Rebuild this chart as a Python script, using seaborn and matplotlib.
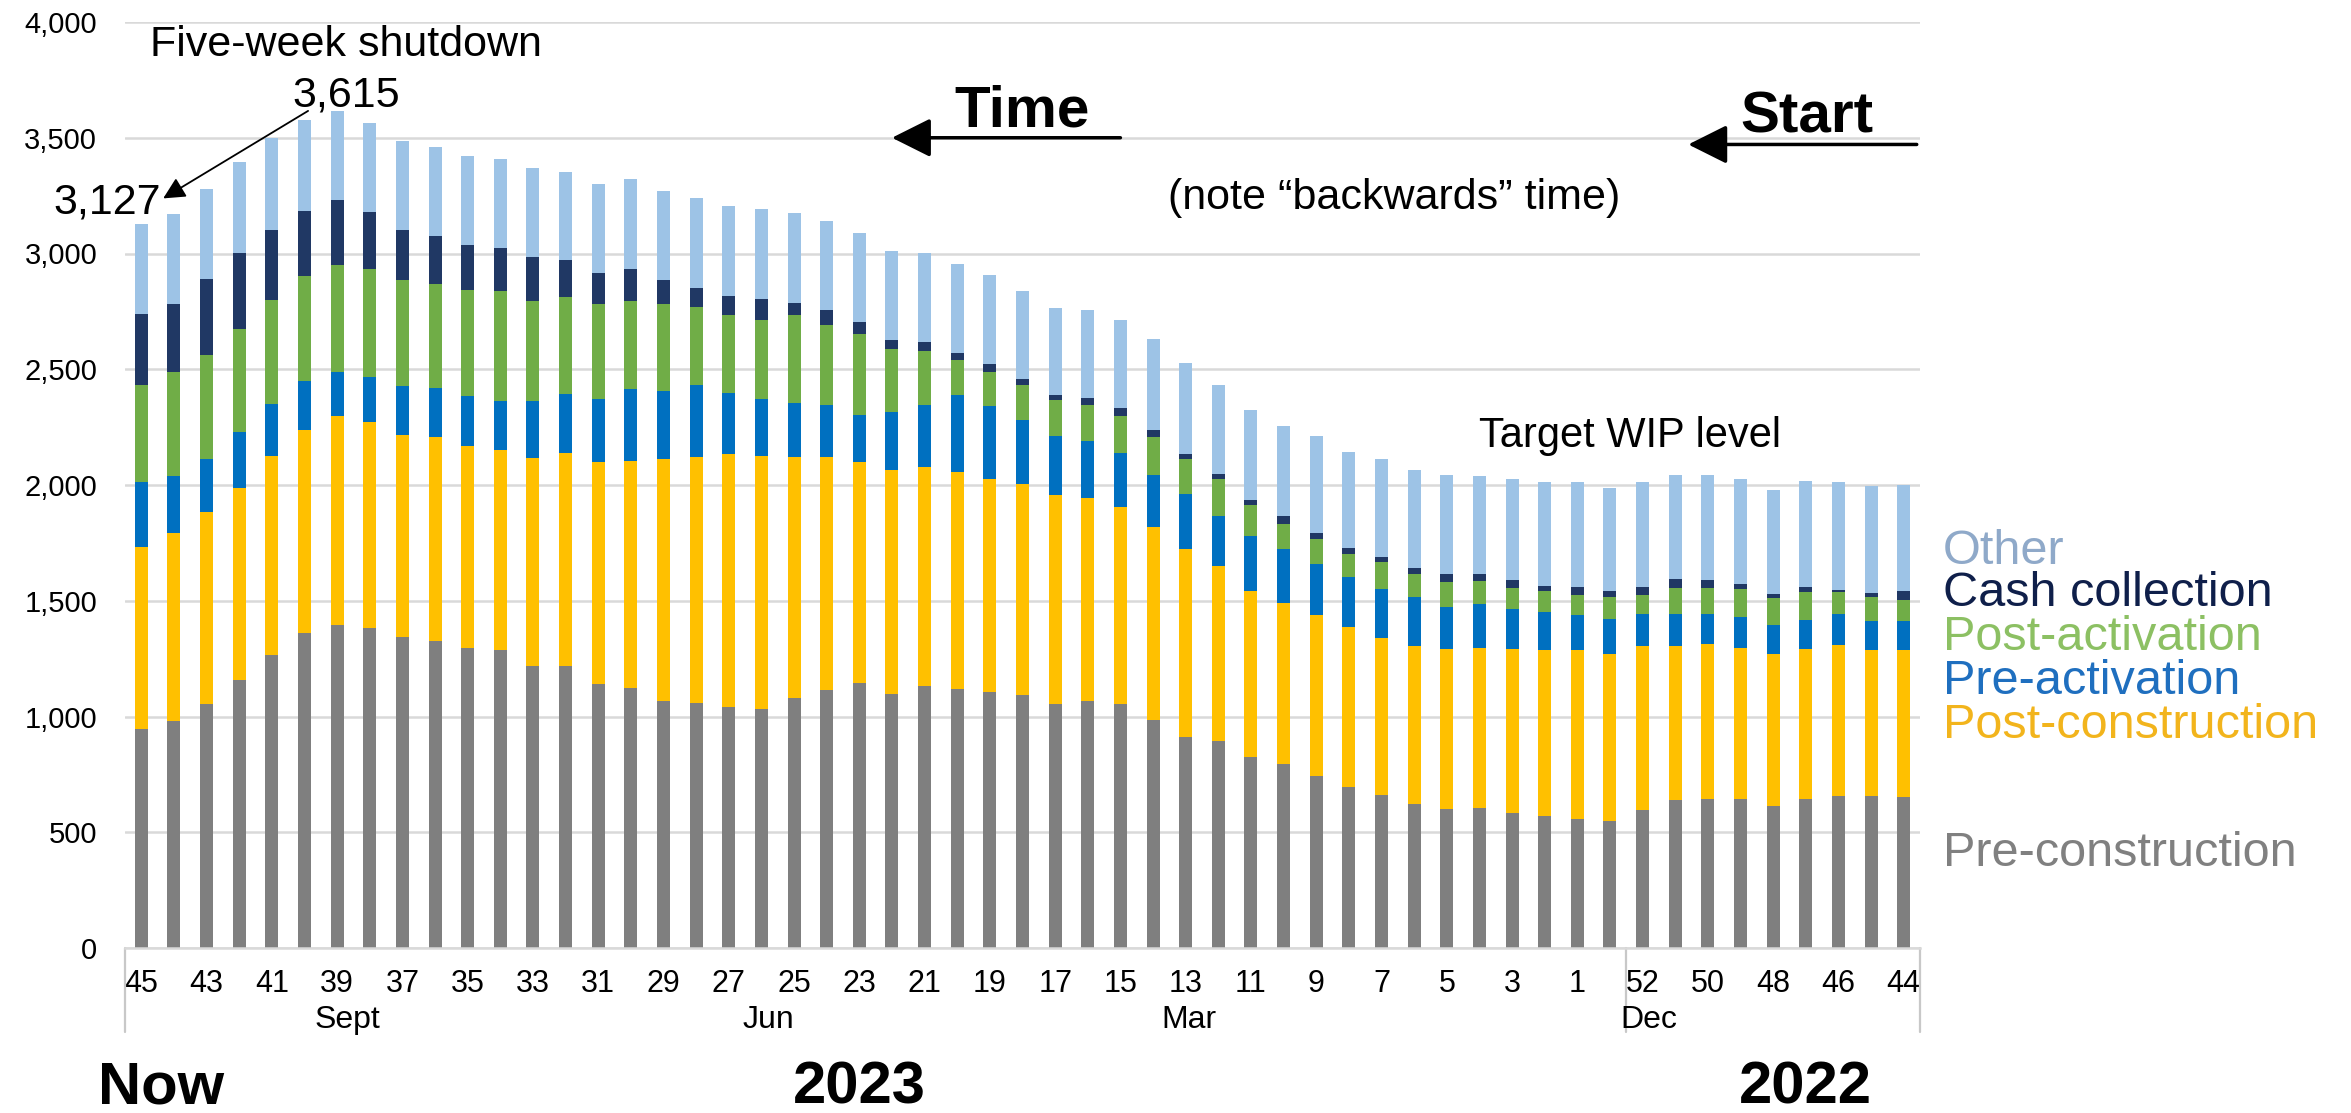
import numpy as np
import pandas as pd
import matplotlib
matplotlib.use("Agg")
import matplotlib.pyplot as plt
from matplotlib.ticker import FuncFormatter
import seaborn as sns

# ---------------- data ----------------
weeks = list(range(45, 0, -1)) + [0] + list(range(52, 43, -1))
years = [2023] * 46 + [2022] * 9

pre_construction = [947, 979, 1053, 1156, 1265, 1360, 1397, 1384, 1344, 1328, 1294, 1286, 1217, 1217, 1140,
                    1122, 1066, 1058, 1040, 1034, 1079, 1114, 1143, 1098, 1130, 1119, 1106, 1095, 1053, 1066,
                    1053, 987, 913, 894, 825, 796, 741, 696, 661, 624, 601, 603, 582, 569, 556, 550,
                    598, 638, 643, 643, 614, 643, 656, 656, 651]
post_construction = [786, 812, 831, 831, 859, 878, 902, 886, 870, 881, 873, 865, 899, 923, 958,
                     981, 1045, 1061, 1092, 1093, 1043, 1008, 958, 968, 947, 939, 920, 908, 905, 876,
                     852, 833, 809, 754, 717, 693, 696, 690, 680, 680, 690, 693, 709, 717, 730, 722,
                     706, 666, 669, 653, 656, 648, 654, 630, 635]
pre_activation = [280, 246, 227, 241, 228, 212, 188, 198, 212, 212, 219, 211, 246, 252, 272,
                  310, 296, 312, 267, 246, 232, 222, 203, 251, 270, 331, 315, 277, 254, 248,
                  233, 225, 238, 220, 236, 233, 222, 217, 209, 212, 183, 188, 175, 164, 151, 151,
                  138, 138, 130, 133, 127, 127, 132, 127, 127]
post_activation = [418, 450, 450, 447, 447, 452, 465, 466, 458, 449, 455, 474, 432, 418, 410,
                   381, 373, 339, 336, 339, 381, 349, 349, 270, 230, 151, 148, 154, 156, 154,
                   158, 161, 151, 156, 135, 111, 108, 98, 119, 100, 105, 101, 87, 90, 87, 93,
                   82, 114, 114, 121, 116, 119, 95, 103, 90]
cash_collection = [307, 293, 328, 328, 302, 281, 278, 246, 217, 207, 196, 188, 190, 161, 135,
                   140, 106, 79, 80, 90, 51, 61, 53, 40, 42, 29, 32, 26, 21, 32,
                   35, 32, 24, 24, 21, 35, 27, 27, 21, 27, 37, 31, 37, 23, 34, 24,
                   34, 39, 34, 24, 16, 24, 11, 16, 39]
other = [389, 389, 391, 394, 396, 394, 385, 383, 383, 383, 386, 386, 384, 383, 387,
         389, 384, 392, 391, 391, 389, 386, 384, 384, 384, 386, 384, 376, 376, 381,
         383, 392, 394, 383, 389, 386, 418, 415, 424, 420, 426, 421, 434, 448, 453, 447,
         453, 447, 452, 450, 450, 455, 463, 465, 458]

series_names = ["Pre-construction", "Post-construction", "Pre-activation",
                "Post-activation", "Cash collection", "Other"]
bar_colors = ["#7F7F7F", "#FFC000", "#0070C0", "#70AD47", "#203864", "#9DC3E6"]
label_colors = ["#808080", "#F2B41C", "#1F6FBF", "#8CC063", "#0F1F4A", "#8FA9C9"]
y_ticks = [0, 500, 1000, 1500, 2000, 2500, 3000, 3500, 4000]
month_labels = ["Sept", "Jun", "Mar", "Dec"]
year_labels = ["Now", "2023", "2022"]

# ---------------- figure ----------------
sns.set_theme(style="white")
plt.rcParams["font.family"] = ["Liberation Sans", "DejaVu Sans"]
plt.rcParams["text.color"] = "black"
plt.rcParams["xtick.color"] = "black"
plt.rcParams["ytick.color"] = "black"

W, H = 2351, 1113
fig = plt.figure(figsize=(W / 100, H / 100), dpi=100)
ax = fig.add_axes([125 / W, 1 - 948 / H, 1795 / W, 926 / H])

keys = [f"{y}-{w}" for y, w in zip(years, weeks)]
stack = np.array([pre_construction, post_construction, pre_activation,
                  post_activation, cash_collection, other])
cum = np.cumsum(stack, axis=0)
df = pd.DataFrame({"key": keys})
for k, name in enumerate(series_names):
    df[name] = cum[k]

# draw cumulative totals from the top layer down so lower layers overlay
for k in reversed(range(len(series_names))):
    sns.barplot(data=df, x="key", y=series_names[k], order=keys,
                color=bar_colors[k], saturation=1, width=0.4,
                linewidth=0, errorbar=None, ax=ax, zorder=2)

ax.set_xlim(-0.5, len(keys) - 0.5)
ax.set_ylim(0, 4000)
ax.set_xlabel("")
ax.set_ylabel("")
ax.set_yticks(y_ticks)
ax.yaxis.set_major_formatter(FuncFormatter(lambda v, p: f"{int(v):,}"))
ax.set_xticks(range(len(keys)))
ax.set_xticklabels([str(w) if i % 2 == 0 else "" for i, w in enumerate(weeks)])
ax.tick_params(axis="x", length=0, pad=15, labelsize=22, colors="black")
ax.tick_params(axis="y", length=0, pad=20, labelsize=21, colors="black")

ax.yaxis.grid(True, color="#D9D9D9", lw=1.8)
ax.xaxis.grid(False)
ax.set_axisbelow(True)
for s in ["left", "right", "top"]:
    ax.spines[s].set_visible(False)
ax.spines["bottom"].set_color("#D9D9D9")
ax.spines["bottom"].set_linewidth(1.8)

# ---------------- annotations ----------------
ax.text(6.28, 3900, "Five-week shutdown", ha="center", va="center", fontsize=31)
ax.text(6.28, 3684, "3,615", ha="center", va="center", fontsize=31)
ax.text(0.6, 3222, "3,127", ha="right", va="center", fontsize=31, clip_on=False)
ax.annotate("", xy=(0.67, 3238), xytext=(5.11, 3616),
            arrowprops=dict(arrowstyle="-|>,head_length=0.6,head_width=0.3", color="black",
                            lw=1.3, mutation_scale=22, shrinkA=0, shrinkB=0))

ax.text(27.0, 3548, "Time", ha="center", va="baseline", fontsize=42, weight="bold")
ax.annotate("", xy=(23.0, 3500), xytext=(30.0, 3500),
            arrowprops=dict(arrowstyle="-|>,head_length=0.4,head_width=0.2", color="black",
                            lw=2.5, mutation_scale=60, shrinkA=0, shrinkB=0))
ax.text(51.05, 3522, "Start", ha="center", va="baseline", fontsize=42, weight="bold")
ax.annotate("", xy=(47.4, 3471), xytext=(54.4, 3471),
            arrowprops=dict(arrowstyle="-|>,head_length=0.4,head_width=0.2", color="black",
                            lw=2.5, mutation_scale=60, shrinkA=0, shrinkB=0),
            annotation_clip=False)

ax.text(38.4, 3238, "(note \u201cbackwards\u201d time)", ha="center", va="center", fontsize=31)
ax.text(45.6, 2210, "Target WIP level", ha="center", va="center", fontsize=30)

# month labels and year labels below the axis
for lab, xpos in zip(month_labels, [6.3, 19.2, 32.1, 46.2]):
    ax.text(xpos, -311, lab, ha="center", va="center", fontsize=23, clip_on=False)
for lab, xpos in zip(year_labels, [0.6, 22.0, 51.0]):
    ax.text(xpos, -605, lab, ha="center", va="center", fontsize=43, weight="bold", clip_on=False)
for xpos in [-0.5, 45.5, 54.5]:
    ax.plot([xpos, xpos], [0, -363], color="#C8C8C8", lw=1.6, clip_on=False, zorder=1)

# legend as coloured text on the right
legend_y = [552, 594, 638, 682, 725, 853]
for name, col, yy in zip(reversed(series_names), reversed(label_colors), legend_y):
    fig.text(1943 / W, 1 - yy / H, name, color=col, fontsize=35, ha="left", va="center")

fig.savefig("out.png", dpi=100)
